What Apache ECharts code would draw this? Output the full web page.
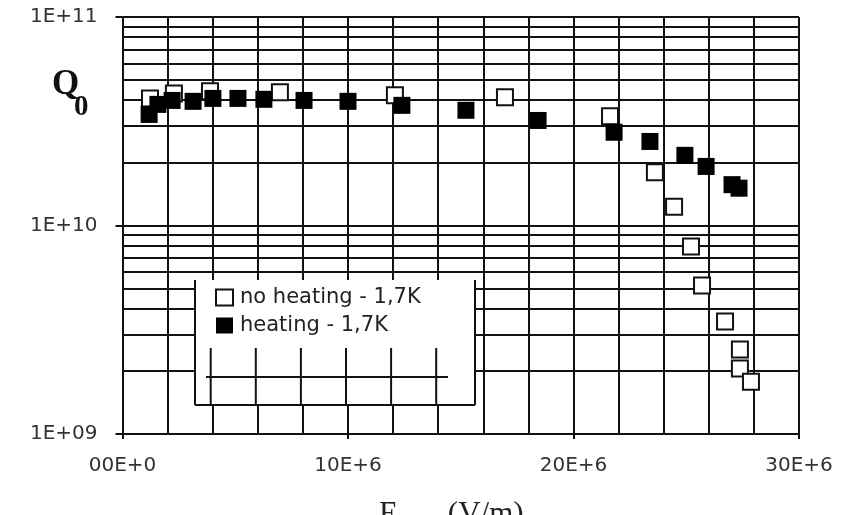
<!DOCTYPE html>
<html>
<head>
<meta charset="utf-8">
<script src="https://cdn.jsdelivr.net/npm/echarts@6/dist/echarts.min.js"></script>
<style>
  html, body { margin: 0; padding: 0; background: #ffffff; }
  #chart { width: 841px; height: 515px; }
</style>
</head>
<body>
<div id="chart"></div>
<script>
// Accelerating field Eacc (V/m) and quality factor Q0, two runs at 1.7 K
const noHeatingE = [1.22e6, 2.28e6, 3.88e6, 6.98e6, 12.08e6, 16.96e6, 21.62e6, 23.61e6, 24.46e6, 25.21e6, 25.70e6, 26.72e6, 27.38e6, 27.38e6, 27.87e6];
const noHeatingQ = [4.07e10, 4.30e10, 4.40e10, 4.35e10, 4.21e10, 4.12e10, 3.34e10, 1.80e10, 1.23e10, 7.93e9, 5.15e9, 3.46e9, 2.54e9, 2.06e9, 1.78e9];

const heatingE = [1.18e6, 1.57e6, 2.20e6, 3.13e6, 4.01e6, 5.12e6, 6.27e6, 8.05e6, 10.00e6, 12.39e6, 15.23e6, 18.43e6, 21.80e6, 23.39e6, 24.94e6, 25.88e6, 27.03e6, 27.34e6];
const heatingQ = [3.41e10, 3.81e10, 3.98e10, 3.94e10, 4.07e10, 4.07e10, 4.03e10, 3.98e10, 3.94e10, 3.77e10, 3.57e10, 3.19e10, 2.80e10, 2.53e10, 2.17e10, 1.92e10, 1.57e10, 1.51e10];

const seriesNames = ['no heating - 1,7K', 'heating - 1,7K'];

// Intermediate log grid lines (2..9 within each decade)
const minorQ = [2e9, 3e9, 4e9, 5e9, 6e9, 7e9, 8e9, 9e9, 2e10, 3e10, 4e10, 5e10, 6e10, 7e10, 8e10, 9e10];

const xMin = 0, xMax = 30e6, xStep = 10e6;
const yMin = 1e9, yMax = 1e11;

const INK = '#121212';
const SANS = 'DejaVu Sans, Verdana, sans-serif';
const SERIF = 'Liberation Serif, Times New Roman, serif';
const pairs = (xs, ys) => xs.map((x, i) => [x, ys[i]]);

const chart = echarts.init(document.getElementById('chart'), null, { renderer: 'canvas' });

chart.setOption({
  animation: false,
  backgroundColor: '#ffffff',
  grid: { left: 122.5, right: 42, top: 17, bottom: 81, containLabel: false },
  xAxis: {
    type: 'value', min: xMin, max: xMax, interval: xStep,
    axisLine: { show: true, onZero: false, lineStyle: { color: INK, width: 2 } },
    axisTick: { show: true, length: 5, lineStyle: { color: INK, width: 2 } },
    minorTick: { show: false, splitNumber: 5 },
    splitLine: { show: true, lineStyle: { color: INK, width: 2 } },
    minorSplitLine: { show: true, lineStyle: { color: INK, width: 2 } },
    axisLabel: {
      margin: 22, color: '#333', fontFamily: SANS, fontSize: 20,
      formatter: v => v === 0 ? '00E+0' : (v / 1e6) + 'E+6'
    }
  },
  yAxis: {
    type: 'log', logBase: 10, min: yMin, max: yMax,
    axisLine: { show: true, lineStyle: { color: INK, width: 2 } },
    axisTick: { show: true, length: 7, lineStyle: { color: INK, width: 2 } },
    splitLine: { show: true, lineStyle: { color: INK, width: 2 } },
    axisLabel: {
      margin: 25, color: '#333', fontFamily: SANS, fontSize: 20,
      formatter: v => '1E+' + String(Math.round(Math.log10(v))).padStart(2, '0')
    }
  },
  legend: {
    show: true, orient: 'vertical', left: 215, top: 287, padding: 0,
    itemWidth: 17, itemHeight: 16, itemGap: 7,
    data: seriesNames,
    textStyle: { color: '#222', fontFamily: SANS, fontSize: 21, lineHeight: 16, padding: [0, 0, 0, 2] },
    z: 20
  },
  series: [
    {
      name: 'gridlines', type: 'line', data: [], silent: true,
      markLine: {
        silent: true, symbol: 'none', label: { show: false },
        lineStyle: { color: INK, width: 2, type: 'solid' },
        data: minorQ.map(q => ({ yAxis: q }))
      }
    },
    {
      name: seriesNames[0], type: 'scatter', symbol: 'rect', symbolSize: 16,
      itemStyle: { color: '#ffffff', borderColor: INK, borderWidth: 2, opacity: 1 },
      data: pairs(noHeatingE, noHeatingQ), z: 5
    },
    {
      name: seriesNames[1], type: 'scatter', symbol: 'rect', symbolSize: 17,
      itemStyle: { color: '#000000', borderWidth: 0, opacity: 1 },
      data: pairs(heatingE, heatingQ), z: 6
    }
  ]
});

// Legend frame (open at top) and the stray grid fragments inside it
const gx = v => chart.convertToPixel({ xAxisIndex: 0 }, v);
const fragXs = [4e6, 6e6, 8e6, 10e6, 12e6, 14e6].map(gx);
const frame = { left: 195, right: 475, top: 280, bottom: 405 };
const lineStyle = { stroke: INK, lineWidth: 2 };
const graphics = [
  { type: 'rect', z: 10, shape: { x: frame.left, y: frame.top, width: frame.right - frame.left, height: frame.bottom - frame.top }, style: { fill: '#ffffff' } },
  { type: 'line', z: 11, shape: { x1: frame.left, y1: frame.top, x2: frame.left, y2: frame.bottom }, style: lineStyle },
  { type: 'line', z: 11, shape: { x1: frame.right, y1: frame.top, x2: frame.right, y2: frame.bottom }, style: lineStyle },
  { type: 'line', z: 11, shape: { x1: frame.left, y1: frame.bottom, x2: frame.right, y2: frame.bottom }, style: lineStyle },
  { type: 'line', z: 11, shape: { x1: 206, y1: 377, x2: 448, y2: 377 }, style: lineStyle }
];
fragXs.forEach(x => graphics.push({ type: 'line', z: 11, shape: { x1: x - 2, y1: 348, x2: x - 2, y2: frame.bottom }, style: lineStyle }));

// Axis captions: Q0 on the left, Eacc (V/m) below
graphics.push({
  type: 'text', z: 12, left: 52, top: 67,
  style: { text: 'Q', font: 'bold 35px ' + SERIF, fill: '#111' }
});
graphics.push({
  type: 'text', z: 12, left: 74, top: 93,
  style: { text: '0', font: 'bold 29px ' + SERIF, fill: '#111' }
});
graphics.push({
  type: 'text', z: 12, left: 379, top: 499,
  style: {
    text: '{e|E}{a|acc}{e|   (V/m)}',
    rich: {
      e: { fontFamily: SERIF, fontSize: 31, fill: '#222', verticalAlign: 'top' },
      a: { fontFamily: SERIF, fontSize: 20, fill: '#222', padding: [14, 0, 0, 0], verticalAlign: 'top' }
    }
  }
});

chart.setOption({ graphic: graphics });
</script>
</body>
</html>
